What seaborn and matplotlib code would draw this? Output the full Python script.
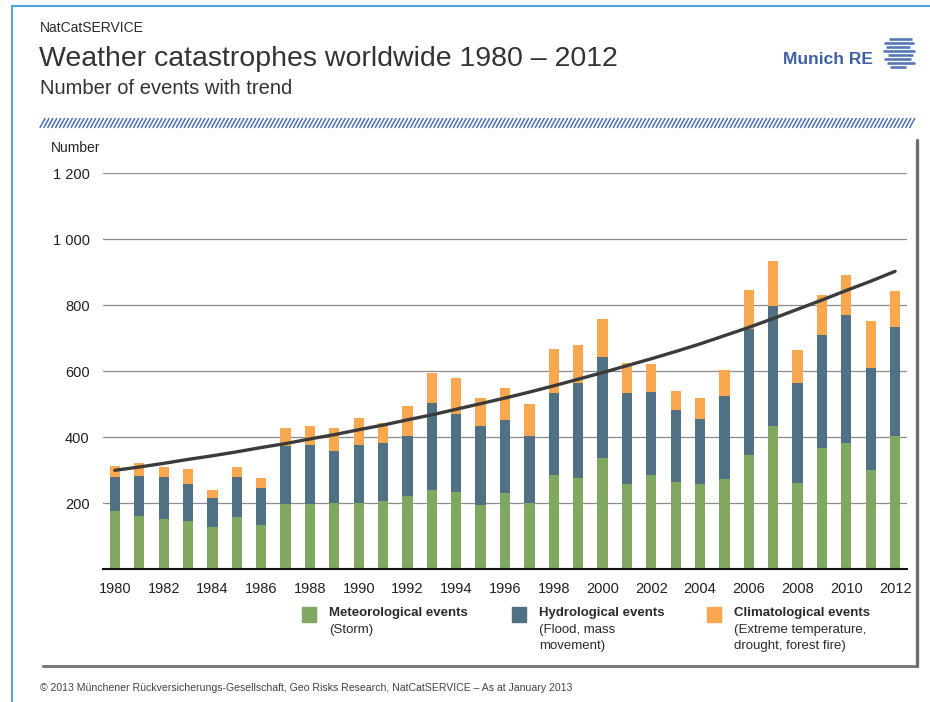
import numpy as np
import pandas as pd
import matplotlib
matplotlib.use("Agg")
import matplotlib.pyplot as plt
from matplotlib.lines import Line2D
from matplotlib.patches import Rectangle
import seaborn as sns

# Event counts per year
years = list(range(1980, 2013))
meteorological = [177, 162, 152, 145, 127, 157, 133, 197, 199, 201, 201, 208, 223, 241, 234,
                  196, 230, 201, 285, 277, 336, 257, 286, 264, 257, 273, 345, 434, 263, 367,
                  383, 300, 403]
hydrological = [103, 122, 128, 115, 89, 123, 112, 176, 179, 159, 175, 176, 182, 264, 236,
                239, 222, 203, 250, 289, 306, 276, 250, 218, 197, 253, 382, 364, 303, 343,
                388, 310, 330]
climatological = [34, 37, 29, 45, 25, 31, 31, 54, 57, 69, 84, 58, 90, 89, 111,
                  84, 96, 96, 134, 114, 118, 91, 86, 58, 64, 78, 118, 136, 100, 122,
                  120, 143, 111]
trend = [300, 310, 321, 333, 344, 356, 369, 381, 395, 408, 423, 437, 453, 468, 485,
         502, 519, 537, 556, 576, 596, 617, 638, 660, 683, 708, 733, 760, 788, 816,
         845, 873, 903]

legend_titles = ["Meteorological events", "Hydrological events", "Climatological events"]
legend_notes = ["(Storm)", "(Flood, mass\nmovement)", "(Extreme temperature,\ndrought, forest fire)"]

GREEN = "#80a860"
SLATE = "#4f7183"
ORANGE = "#f9a84f"
LOGO_BLUE = "#3f5f9f"

df = pd.DataFrame({
    "year": [str(y) for y in years],
    "met": meteorological,
    "hyd": hydrological,
    "cli": climatological,
})
df["met_hyd"] = df["met"] + df["hyd"]
df["total"] = df["met_hyd"] + df["cli"]

sns.set_theme(style="white")
plt.rcParams["font.family"] = ["Liberation Sans", "DejaVu Sans"]

W, H = 930, 702
fig = plt.figure(figsize=(W / 100, H / 100), dpi=100)
fig.patch.set_facecolor("white")


def frac(x, y):
    return x / W, 1 - y / H


# main plotting area
ax_left, ax_right, ax_top, ax_bottom = 102.7, 907.3, 173.3, 569.3
ax = fig.add_axes([ax_left / W, 1 - ax_bottom / H, (ax_right - ax_left) / W, (ax_bottom - ax_top) / H])

bw = 0.42
sns.barplot(data=df, x="year", y="total", color=ORANGE, width=bw, saturation=1, ax=ax, zorder=3)
sns.barplot(data=df, x="year", y="met_hyd", color=SLATE, width=bw, saturation=1, ax=ax, zorder=3)
sns.barplot(data=df, x="year", y="met", color=GREEN, width=bw, saturation=1, ax=ax, zorder=3)
for p in ax.patches:
    p.set_linewidth(0)

pos = np.arange(len(years))
sns.lineplot(x=pos, y=trend, color="#3b3b3b", lw=2.4, ax=ax, zorder=5)

ax.set_xlim(-0.5, len(years) - 0.5)
ax.set_ylim(0, 1200)
ax.set_xlabel("")
ax.set_ylabel("")

yt = [200, 400, 600, 800, 1000, 1200]
ax.set_yticks(yt)
ax.set_yticklabels([f"{v:,}".replace(",", " ") for v in yt], fontsize=10.5, color="#222222")
ax.tick_params(axis="y", length=0, pad=9.5)
ax.yaxis.grid(True, color="#8c8c8c", lw=0.9, zorder=1)
ax.set_axisbelow(True)

ax.set_xticks(pos[::2])
ax.set_xticklabels([str(y) for y in years[::2]], fontsize=10.5, color="#222222")
ax.set_xticks(np.arange(-0.5, len(years)), minor=True)
ax.tick_params(axis="x", which="major", length=0, pad=9.5)
ax.tick_params(axis="x", which="minor", length=4.5, width=1.3, color="#111111", direction="out")

for s in ["top", "right", "left"]:
    ax.spines[s].set_visible(False)
ax.spines["bottom"].set_color("#111111")
ax.spines["bottom"].set_linewidth(1.5)
ax.spines["bottom"].set_zorder(6)

# overlay for page decoration in pixel coordinates
ov = fig.add_axes([0, 0, 1, 1], zorder=-1)
ov.set_xlim(0, W)
ov.set_ylim(H, 0)
ov.axis("off")

# slide border
ov.add_line(Line2D([12, W], [6, 6], color="#45a3dc", lw=1.4))
ov.add_line(Line2D([12, 12], [6, H], color="#45a3dc", lw=1.4))

# chart frame shadow
ov.add_line(Line2D([43, 916.5], [666, 666], color="#7a7a7a", lw=2.2))
ov.add_line(Line2D([916.5, 916.5], [140, 666], color="#6e6e6e", lw=2.4))

# hatched band
for x0 in np.arange(40, 910, 3.9):
    ov.add_line(Line2D([x0, x0 + 5], [127.5, 118.5], color="#4d72b3", lw=1.1))

# header text
fig.text(*frac(40, 28), "NatCatSERVICE", fontsize=10, color="#2a2a2a", va="center", ha="left")
fig.text(*frac(39, 66), "Weather catastrophes worldwide 1980 \u2013 2012", fontsize=20.5,
         color="#333333", va="baseline", ha="left")
fig.text(*frac(40, 94), "Number of events with trend", fontsize=14.5, color="#333333",
         va="baseline", ha="left")

# logo
fig.text(*frac(873, 60), "Munich RE", fontsize=12.5, fontweight="bold", color=LOGO_BLUE,
         va="center", ha="right")
stripes = [(889, 912, 39), (884, 914, 43), (886, 910, 47), (883, 915, 51),
           (888, 913, 55), (884, 911, 59), (887, 915, 63), (890, 906, 67)]
for xa, xb, yy in stripes:
    ov.add_line(Line2D([xa, xb], [yy, yy], color="#5577b8", lw=1.9, solid_capstyle="butt"))

# axis title
fig.text(*frac(51, 148), "Number", fontsize=10, color="#222222", va="center", ha="left")

# legend
leg_x = [302, 512, 707]
for x, col, title, note in zip(leg_x, [GREEN, SLATE, ORANGE], legend_titles, legend_notes):
    ov.add_patch(Rectangle((x, 606.5), 14, 15.5, color=col))
    fig.text(*frac(x + 27, 613), title, fontsize=9.5, fontweight="bold", color="#2a2a2a",
             va="center", ha="left")
    fig.text(*frac(x + 27, 623.5), note, fontsize=9.5, color="#2a2a2a", va="top", ha="left",
             linespacing=1.45)

# footer
fig.text(*frac(40, 688), "\u00a9 2013 M\u00fcnchener R\u00fcckversicherungs-Gesellschaft, Geo Risks Research, "
         "NatCatSERVICE \u2013 As at January 2013", fontsize=7.6, color="#444444", va="center", ha="left")

fig.savefig("out.png", dpi=100, facecolor="white")
